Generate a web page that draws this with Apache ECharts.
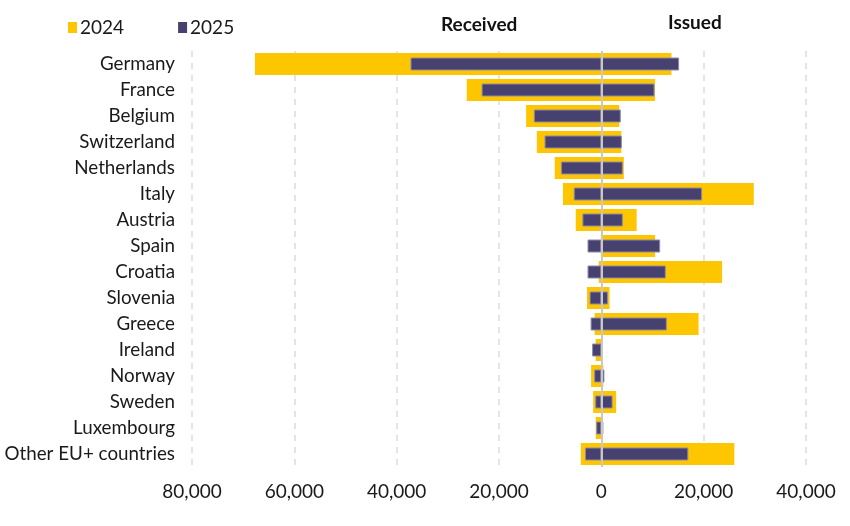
<!DOCTYPE html>
<html><head><meta charset="utf-8">
<script src="https://cdn.jsdelivr.net/npm/echarts@6/dist/echarts.min.js"></script>
<style>html,body{margin:0;padding:0;background:#fff}#c{width:850px;height:526px}</style>
</head><body><div id="c"></div>
<script>
const categories = ['Germany','France','Belgium','Switzerland','Netherlands','Italy','Austria','Spain','Croatia','Slovenia','Greece','Ireland','Norway','Sweden','Luxembourg','Other EU+ countries'];
const received2024 = [-67700,-26300,-14700,-12600,-9100,-7500,-5000,-100,-500,-2800,-1300,-1100,-2000,-1600,-1100,-4000];
const issued2024   = [13700,10500,3500,3900,4400,29800,6900,10500,23600,1600,19000,100,400,2900,300,26000];
const received2025 = [-37300,-23400,-13200,-11100,-7900,-5400,-3700,-2700,-2700,-2300,-2100,-1800,-1400,-1200,-1000,-3200];
const issued2025   = [15200,10400,3800,4000,4200,19700,4200,11500,12600,1300,12800,200,600,2200,400,17000];
const xTicks = {min:-80000, max:40000, interval:20000};

const YEL = '#FEC600', PUR = '#46416F';
const font = 'Lato';
const chart = echarts.init(document.getElementById('c'));
const catAxis = (show) => ({
  type:'category', data:categories, inverse:true, show:show,
  axisLine:{show:false}, axisTick:{show:false},
  axisLabel:{color:'#1a1a1a', fontSize:18.8, fontFamily:font, margin:17}
});
chart.setOption({
  animation:false,
  textStyle:{fontFamily:font},
  legend:{
    data:['2024','2025'], left:63, top:13, itemWidth:9, itemHeight:11, itemGap:54,
    icon:'rect', itemStyle:{borderWidth:0},
    textStyle:{fontSize:19, color:'#1a1a1a', fontFamily:font, padding:[0,0,0,-2]}
  },
  graphic:[
    {type:'text', left:441, top:15, style:{text:'Received', font:'bold 19px Lato', fill:'#111'}},
    {type:'text', left:668, top:13, style:{text:'Issued', font:'bold 19px Lato', fill:'#111'}}
  ],
  grid:{left:192, right:44, top:51, bottom:59, containLabel:false},
  xAxis:{
    type:'value', min:xTicks.min, max:xTicks.max, interval:xTicks.interval,
    axisLine:{show:false}, axisTick:{show:false},
    axisLabel:{fontSize:19, color:'#1a1a1a', fontFamily:font, margin:15,
      formatter:v=>Math.abs(v).toLocaleString('en-US')},
    splitLine:{show:true, lineStyle:{type:[6,6], color:'#dcdcdc', width:1.5}}
  },
  yAxis:[catAxis(true), catAxis(false)],
  series:[
    {name:'2024', type:'bar', yAxisIndex:0, stack:'y24', data:received2024, barWidth:22, itemStyle:{color:YEL}, z:2},
    {name:'2024', type:'bar', yAxisIndex:0, stack:'y24', data:issued2024, barWidth:22, itemStyle:{color:YEL}, z:2},
    {name:'2025', type:'bar', yAxisIndex:1, stack:'y25', data:received2025, barWidth:13, itemStyle:{color:PUR, borderColor:'#8f8aa9', borderWidth:1}, z:3},
    {name:'2025', type:'bar', yAxisIndex:1, stack:'y25', data:issued2025, barWidth:13, itemStyle:{color:PUR, borderColor:'#8f8aa9', borderWidth:1}, z:4,
      markLine:{silent:true, symbol:'none', label:{show:false}, z:10,
        lineStyle:{type:'solid', color:'#c8c8c8', width:2}, data:[{xAxis:0}]}}
  ]
});
</script></body></html>
